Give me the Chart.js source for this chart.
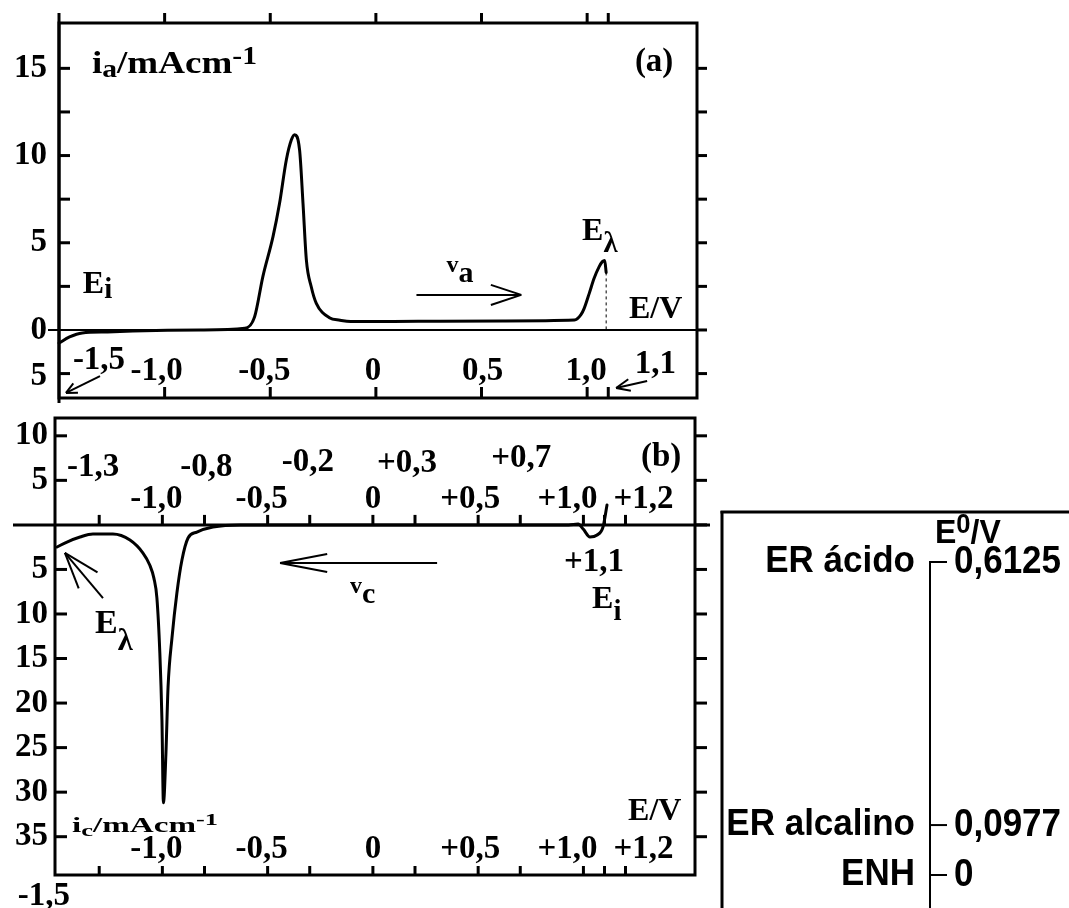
<!DOCTYPE html>
<html>
<head>
<meta charset="utf-8">
<title>Voltametria cíclica</title>
<script src="https://cdn.jsdelivr.net/npm/chart.js@4.4.1/dist/chart.umd.min.js"></script>
<style>
  html, body { margin: 0; padding: 0; background: #fff; }
  #page { position: relative; width: 1069px; height: 908px; overflow: hidden; }
  .layer { position: absolute; left: 0; top: 0; width: 1069px; height: 908px; }
</style>
</head>
<body>
<div id="page">
  <div class="layer"><canvas id="anodic"></canvas></div>
  <div class="layer"><canvas id="cathodic"></canvas></div>
  <div class="layer"><canvas id="potentials"></canvas></div>
</div>
<script>
// (a) varredura anódica: E / V  x  i_a / mA cm-1
const anodicE = [-1.5, -1.45, -1.39, -1.27, -1.15, -0.83, -0.62, -0.574, -0.535, -0.487, -0.456, -0.424, -0.4, -0.385,
  -0.361, -0.345, -0.329, -0.306, -0.282, -0.22, -0.17, -0.12, 0.2, 0.6, 0.94, 0.97, 0.986, 1.01, 1.033, 1.057, 1.072, 1.083, 1.09];
const anodicI = [-0.75, -0.40, -0.17, -0.11, -0.06, 0, 0.1, 0.76, 3.06, 5.35, 7.26, 9.75, 10.9, 11.2,
  10.3, 7.26, 4.0, 2.48, 1.53, 0.7, 0.56, 0.48, 0.5, 0.52, 0.57, 0.86, 1.24, 2.1, 2.96, 3.63, 3.92, 3.98, 3.3];

// (b) varredura catódica (corrente catódica para baixo)
const cathodicE = [-1.5, -1.453, -1.391, -1.33, -1.235, -1.154, -1.092, -1.06, -1.04, -1.026, -1.012, -1.002, -0.995,
  -0.983, -0.973, -0.954, -0.931, -0.907, -0.878, -0.836, -0.76, -0.63, 0.0, 0.93, 0.975, 1.0, 1.031, 1.065, 1.093, 1.112];
const cathodicI = [-2.48, -1.92, -1.36, -1.02, -1.02, -1.70, -3.16, -4.5, -6.0, -8.2, -14.4, -21.9, -31.2,
  -25.6, -18.2, -12.6, -7.64, -3.94, -1.47, -0.80, -0.24, 0, 0, 0, 0.1, -0.5, -1.36, -1.13, -0.24, 2.23];

// eixos de (a)
const aTickE = [-1.0, -0.5, 0, 0.5, 1.0, 1.1];
const aTickI = [-2.5, 0, 2.5, 5, 7.5, 10, 12.5, 15];
const aLabelE = [-1.5, -1.0, -0.5, 0, 0.5, 1.0, 1.1];
const aLabelEText = ['-1,5', '-1,0', '-0,5', '0', '0,5', '1,0', '1,1'];
const aLabelI = [15, 10, 5, 0, -2.5];
const aLabelIText = ['15', '10', '5', '0', '5'];

// eixos de (b)
const bTickE = [-1.3, -1.0, -0.8, -0.5, -0.3, 0, 0.2, 0.5, 0.7, 1.0, 1.1, 1.2];
const bTickI = [-35, -30, -25, -20, -15, -10, -5, 0, 5, 10];
const bLabelI = [10, 5, -5, -10, -15, -20, -25, -30, -35];
const bUpperE = [-1.3, -0.8, -0.2, 0.3, 0.7];
const bUpperText = ['-1,3', '-0,8', '-0,2', '+0,3', '+0,7'];
const bLowerE = [-1.0, -0.5, 0, 0.5, 1.0, 1.2];
const bLowerText = ['-1,0', '-0,5', '0', '+0,5', '+1,0', '+1,2'];

// potenciais padrão de referência
const refNames = ['ER ácido', 'ER alcalino', 'ENH'];
const refE0 = [0.6125, 0.0977, 0];
const refE0Text = ['0,6125', '0,0977', '0'];

const SERIF = '"Liberation Serif", "DejaVu Serif", serif';
const SANS = '"Liberation Sans", Arial, sans-serif';

// deslocamentos (px) dos rótulos em relação aos seus valores
const aLabelDx = [40, -8, -6, -3, 1, -1, 47];
const aLabelDy = [-11, 0, 0, 0, 0, 0, -7];
const bUpperDx = [-6, 2, -23, -29, 1];
const bUpperDy = [-49, -49, -54, -53, -58];
const bLowerDx = [-6, -6, 0, -8, -16, 18];

const aNotes = [
  { text: 'i_{a}/mAcm^{-1}', e: -1.344, i: 14.74, size: 32, width: 165, subDy: 0.13, supDy: 0.27 },
  { text: '(a)', e: 1.317, i: 14.85, size: 33, align: 'center' },
  { text: 'E_{i}', e: -1.387, i: 2.12, size: 32, subDy: 0.16, subScale: 0.9 },
  { text: '^{v}a', e: 0.334, i: 2.75, size: 30 },
  { text: 'E_{λ}', e: 0.976, i: 5.16, size: 32, subDy: 0.37, subScale: 0.9 },
  { text: 'E/V', e: 1.198, i: 0.69, size: 32 }
];
const bNotes = [
  { text: '(b)', e: 1.369, i: 6.61, size: 33, align: 'center' },
  { text: '^{v}c', e: -0.109, i: -8.77, size: 30 },
  { text: 'E_{λ}', e: -1.32, i: -12.14, size: 34, subDy: 0.5, subScale: 0.9 },
  { text: '+1,1', e: 1.05, i: -5.18, size: 33, align: 'center' },
  { text: 'E_{i}', e: 1.041, i: -9.33, size: 32, subDy: 0.37, subScale: 0.9 },
  { text: 'E/V', e: 1.212, i: -33.13, size: 32 },
  { text: 'i_{c}/mAcm^{-1}', e: -1.429, i: -34.47, size: 21, width: 146 },
  { text: '-1,5', e: -1.563, i: -42.7, size: 33, align: 'center' }
];
const aArrows = [
  { from: [0.192, 2.01], to: [0.688, 2.01], head: 32, spread: 0.32 },
  { from: [-1.306, -2.64], to: [-1.467, -3.61], head: 12, spread: 0.45 },
  { from: [1.284, -2.92], to: [1.137, -3.33], head: 15, spread: 0.4 }
];
const bArrows = [
  { from: [0.305, -4.28], to: [-0.441, -4.28], head: 48, spread: 0.19 },
  { from: [-1.282, -8.21], to: [-1.463, -3.15], head: 38, spread: 0.33 }
];

function line(ctx, x1, y1, x2, y2, w) {
  ctx.lineWidth = w;
  ctx.beginPath();
  ctx.moveTo(x1, y1);
  ctx.lineTo(x2, y2);
  ctx.stroke();
}

function arrow(ctx, x1, y1, x2, y2, head, spread, w) {
  line(ctx, x1, y1, x2, y2, w);
  const ang = Math.atan2(y1 - y2, x1 - x2);
  [-1, 1].forEach(s => {
    const a = ang + s * spread;
    line(ctx, x2, y2, x2 + head * Math.cos(a), y2 + head * Math.sin(a), w);
  });
}

// texto com _{índice} e ^{expoente}
function rich(ctx, str, x, y, o) {
  const size = o.size, fam = o.family || SERIF;
  const sc = o.subScale || 0.8;
  const parts = [];
  str.replace(/_\{([^}]*)\}|\^\{([^}]*)\}|([^_^]+)/g, (m, sub, sup, txt) => {
    if (sub !== undefined) parts.push({ t: sub, s: size * sc, dy: size * (o.subDy ?? 0.2) });
    else if (sup !== undefined) parts.push({ t: sup, s: size * 0.8, dy: -size * (o.supDy ?? 0.32) });
    else parts.push({ t: txt, s: size, dy: 0 });
    return m;
  });
  let w = 0;
  parts.forEach(p => {
    ctx.font = 'bold ' + p.s + 'px ' + fam;
    p.w = ctx.measureText(p.t).width;
    w += p.w;
  });
  const sx = o.width ? o.width / w : 1;
  const sy = o.stretch || 1;
  let x0 = x;
  if (o.align === 'center') x0 = x - w * sx / 2;
  else if (o.align === 'right') x0 = x - w * sx;
  ctx.save();
  ctx.translate(x0, y);
  ctx.scale(sx, sy);
  ctx.fillStyle = '#000';
  ctx.textAlign = 'left';
  ctx.textBaseline = o.baseline || 'alphabetic';
  let cx = 0;
  parts.forEach(p => {
    ctx.font = 'bold ' + p.s + 'px ' + fam;
    ctx.fillText(p.t, cx, p.dy);
    cx += p.w;
  });
  ctx.restore();
}

function drawNotes(ctx, x, y, notes) {
  notes.forEach(n => rich(ctx, n.text, x.getPixelForValue(n.e), y.getPixelForValue(n.i), n));
}

function drawArrows(ctx, x, y, list) {
  list.forEach(a => arrow(ctx,
    x.getPixelForValue(a.from[0]), y.getPixelForValue(a.from[1]),
    x.getPixelForValue(a.to[0]), y.getPixelForValue(a.to[1]), a.head, a.spread, 2));
}

const anodicFrame = {
  id: 'anodicFrame',
  beforeDatasetsDraw(chart) {
    const { ctx, chartArea: a, scales: { x, y } } = chart;
    ctx.save();
    ctx.strokeStyle = '#000';
    const y0 = y.getPixelForValue(0);
    line(ctx, a.left - 11, y0, a.right + 10, y0, 2);
    // E_lambda
    const n = anodicE.length - 1;
    const xl = x.getPixelForValue(anodicE[n]);
    ctx.setLineDash([3, 3]);
    line(ctx, xl, y.getPixelForValue(anodicI[n]), xl, y0, 1);
    ctx.setLineDash([]);
    ctx.restore();
  },
  afterDatasetsDraw(chart) {
    const { ctx, chartArea: a, scales: { x, y } } = chart;
    ctx.save();
    ctx.strokeStyle = '#000';
    ctx.lineWidth = 3;
    ctx.strokeRect(a.left, a.top, a.right - a.left, a.bottom - a.top);
    line(ctx, a.left, a.top - 10, a.left, a.bottom + 5, 3);
    aTickI.forEach(v => {
      const py = y.getPixelForValue(v);
      if (v !== 0) line(ctx, a.left, py, a.left + 11, py, 3);
      line(ctx, a.right, py, a.right + 10, py, 3);
    });
    aTickE.forEach(v => {
      const px = x.getPixelForValue(v);
      line(ctx, px, a.top - 10, px, a.top, 3);
      line(ctx, px, a.bottom - 11, px, a.bottom, 3);
    });
    aLabelI.forEach((v, k) => rich(ctx, aLabelIText[k], a.left - 12, y.getPixelForValue(v) + (v < 0 ? 3 : 0),
      { size: 33, align: 'right', baseline: 'middle' }));
    aLabelE.forEach((v, k) => rich(ctx, aLabelEText[k], x.getPixelForValue(v) + aLabelDx[k], a.bottom - 18 + aLabelDy[k],
      { size: 33, align: 'center' }));
    drawNotes(ctx, x, y, aNotes);
    drawArrows(ctx, x, y, aArrows);
    ctx.restore();
  }
};

const cathodicFrame = {
  id: 'cathodicFrame',
  beforeDatasetsDraw(chart) {
    const { ctx, chartArea: a, scales: { y } } = chart;
    ctx.save();
    ctx.strokeStyle = '#000';
    const y0 = y.getPixelForValue(0);
    line(ctx, a.left - 42, y0, a.right + 15, y0, 3);
    ctx.restore();
  },
  afterDatasetsDraw(chart) {
    const { ctx, chartArea: a, scales: { x, y } } = chart;
    ctx.save();
    ctx.strokeStyle = '#000';
    ctx.lineWidth = 3;
    ctx.strokeRect(a.left, a.top, a.right - a.left, a.bottom - a.top);
    const y0 = y.getPixelForValue(0);
    bTickI.forEach(v => {
      const py = y.getPixelForValue(v);
      if (v !== 0) line(ctx, a.left, py, a.left + 12, py, 3);
      line(ctx, a.right, py, a.right + 12, py, 3);
    });
    bTickE.forEach(v => {
      const px = x.getPixelForValue(v);
      line(ctx, px, y0 - 10, px, y0, 3);
      line(ctx, px, a.bottom - 9, px, a.bottom, 3);
    });
    bLabelI.forEach(v => rich(ctx, String(Math.abs(v)), a.left - 7, y.getPixelForValue(v),
      { size: 33, align: 'right', baseline: 'middle' }));
    bUpperE.forEach((v, k) => rich(ctx, bUpperText[k], x.getPixelForValue(v) + bUpperDx[k], y0 + bUpperDy[k],
      { size: 33, align: 'center' }));
    bLowerE.forEach((v, k) => {
      const px = x.getPixelForValue(v) + bLowerDx[k];
      rich(ctx, bLowerText[k], px, y0 - 17, { size: 33, align: 'center' });
      rich(ctx, bLowerText[k], px, a.bottom - 17, { size: 33, align: 'center' });
    });
    drawNotes(ctx, x, y, bNotes);
    drawArrows(ctx, x, y, bArrows);
    ctx.restore();
  }
};

const potentialScale = {
  id: 'potentialScale',
  afterDraw(chart) {
    const { ctx, chartArea: a, scales: { y } } = chart;
    ctx.save();
    ctx.strokeStyle = '#000';
    // moldura do quadro
    line(ctx, a.left - 208, a.top - 51, a.left - 208, a.bottom, 3);
    line(ctx, a.left - 209.5, a.top - 50, chart.width, a.top - 50, 3);
    // eixo vertical a partir do maior potencial
    line(ctx, a.left, y.getPixelForValue(refE0[0]) - 1, a.left, a.bottom, 2);
    refE0.forEach((v, k) => {
      const py = y.getPixelForValue(v);
      line(ctx, a.left, py, a.left + 17, py, 2);
      rich(ctx, refNames[k], a.left - 15, py, { size: 35, family: SANS, align: 'right', baseline: 'middle', stretch: 1.08 });
      rich(ctx, refE0Text[k], a.left + 24, py, { size: 35, family: SANS, baseline: 'middle', stretch: 1.1 });
    });
    rich(ctx, 'E^{0}/V', a.left + 5, a.top - 19, { size: 32, family: SANS, supDy: 0.3, stretch: 1.05 });
    ctx.restore();
  }
};

function panel(id, E, I, xr, yr, pad, frame) {
  const points = E.map((e, k) => ({ x: e, y: I[k] }));
  return new Chart(document.getElementById(id), {
    type: 'scatter',
    data: {
      datasets: [{
        data: points, showLine: true, borderColor: '#000', borderWidth: 3, pointRadius: 0,
        cubicInterpolationMode: 'monotone', borderJoinStyle: 'round', borderCapStyle: 'round', clip: false
      }]
    },
    options: {
      responsive: true, maintainAspectRatio: false, animation: false, events: [],
      layout: { padding: pad },
      plugins: { legend: { display: false }, tooltip: { enabled: false } },
      scales: {
        x: { type: 'linear', display: false, min: xr[0], max: xr[1] },
        y: { type: 'linear', display: false, min: yr[0], max: yr[1] }
      }
    },
    plugins: [frame]
  });
}

panel('anodic', anodicE, anodicI, [-1.5, 1.52], [-3.9, 17.6], { left: 59, top: 23, right: 372, bottom: 510 }, anodicFrame);
panel('cathodic', cathodicE, cathodicI, [-1.51, 1.53], [-39.3, 12.0], { left: 55, top: 418, right: 374, bottom: 33 }, cathodicFrame);

new Chart(document.getElementById('potentials'), {
  type: 'scatter',
  data: { datasets: [] },
  options: {
    responsive: true, maintainAspectRatio: false, animation: false, events: [],
    layout: { padding: { left: 930, top: 562, right: 69, bottom: 0 } },
    plugins: { legend: { display: false }, tooltip: { enabled: false } },
    scales: {
      x: { type: 'linear', display: false, min: 0, max: 1 },
      y: { type: 'linear', display: false, min: -0.0646, max: 0.6125 }
    }
  },
  plugins: [potentialScale]
});
</script>
</body>
</html>
